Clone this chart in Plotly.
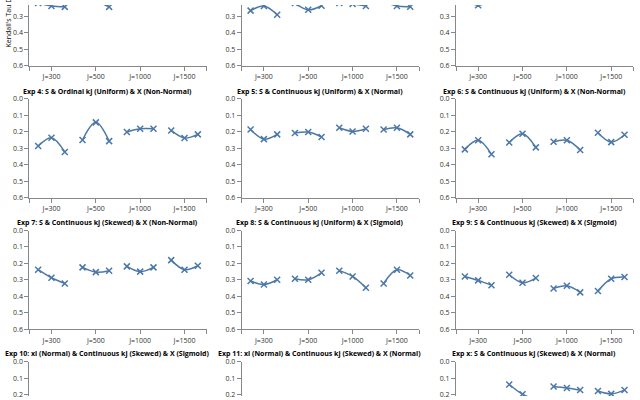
import plotly.graph_objects as go

J_LABELS = ["J=300", "J=500", "J=1000", "J=1500"]
Y_TITLE = "Kendall's Tau Distance"

TITLES = [
    "Exp 1", "Exp 2", "Exp 3",
    "Exp 4: S & Ordinal kj (Uniform) & X (Non-Normal)",
    "Exp 5: S & Continuous kj (Uniform) & X (Normal)",
    "Exp 6: S & Continuous kj (Uniform) & X (Non-Normal)",
    "Exp 7: S & Continuous kj (Skewed) & X (Non-Normal)",
    "Exp 8: S & Continuous kj (Uniform) & X (Sigmoid)",
    "Exp 9: S & Continuous kj (Skewed) & X (Sigmoid)",
    "Exp 10: xi (Normal) & Continuous kj (Skewed) & X (Sigmoid)",
    "Exp 11: xi (Normal) & Continuous kj (Skewed) & X (Normal)",
    "Exp x: S & Continuous kj (Skewed) & X (Normal)",
]

# values per experiment: one list of 3 values per J group
exp1 = [[0.220, 0.238, 0.243], [0.200, 0.210, 0.243], [0.190, 0.200, 0.190], [0.180, 0.190, 0.200]]
exp2 = [[0.266, 0.238, 0.291], [0.220, 0.261, 0.236], [0.220, 0.225, 0.238], [0.210, 0.238, 0.242]]
exp3 = [[0.200, 0.233, 0.200], [0.190, 0.200, 0.210], [0.200, 0.190, 0.200], [0.200, 0.210, 0.190]]
exp4 = [[0.287, 0.236, 0.323], [0.250, 0.143, 0.257], [0.202, 0.182, 0.182], [0.192, 0.238, 0.216]]
exp5 = [[0.186, 0.245, 0.216], [0.208, 0.202, 0.232], [0.176, 0.198, 0.182], [0.186, 0.176, 0.216]]
exp6 = [[0.307, 0.252, 0.337], [0.265, 0.212, 0.295], [0.261, 0.252, 0.311], [0.206, 0.263, 0.218]]
exp7 = [[0.238, 0.287, 0.322], [0.224, 0.253, 0.244], [0.218, 0.250, 0.224], [0.180, 0.238, 0.214]]
exp8 = [[0.307, 0.328, 0.299], [0.293, 0.299, 0.257], [0.244, 0.279, 0.348], [0.322, 0.239, 0.273]]
exp9 = [[0.279, 0.303, 0.333], [0.269, 0.317, 0.289], [0.352, 0.336, 0.376], [0.368, 0.293, 0.283]]
exp10 = [[0.300, 0.320, 0.310], [0.290, 0.300, 0.280], [0.300, 0.310, 0.290], [0.280, 0.300, 0.310]]
exp11 = [[0.280, 0.300, 0.290], [0.270, 0.290, 0.300], [0.290, 0.280, 0.300], [0.300, 0.290, 0.280]]
expx = [[0.260, 0.270, 0.250], [0.138, 0.197, 0.230], [0.150, 0.159, 0.172], [0.178, 0.195, 0.172]]

ALL = [exp1, exp2, exp3, exp4, exp5, exp6, exp7, exp8, exp9, exp10, exp11, expx]

W, H = 640, 400
COLOR = "#4c78a8"
FONT = "Open Sans"
OFFSETS = [-0.3, 0.0, 0.3]

col_px = [(29.3, 206.7), (241.7, 419.1), (456.0, 633.4)]
row_px = [(-39.0, 62.0), (96.0, 197.0), (230.7, 331.7), (365.0, 466.0)]

fig = go.Figure()
annotations = []

for k, data in enumerate(ALL):
    r, c = divmod(k, 3)
    ax = "" if k == 0 else str(k + 1)
    x0, x1 = col_px[c]
    top, bot = row_px[r]
    vis_top = max(top, 0.0)
    vis_bot = min(bot, H)
    dom_y = [1 - vis_bot / H, 1 - vis_top / H]
    # value range visible (reversed axis: 0 at top, 0.6 at bottom)
    v_top = (vis_top - top) / (bot - top) * 0.6
    v_bot = (vis_bot - top) / (bot - top) * 0.6
    for g, vals in enumerate(data):
        fig.add_trace(go.Scatter(
            x=[g + o for o in OFFSETS], y=vals,
            mode="lines+markers",
            line=dict(color=COLOR, width=1.5, shape="spline", smoothing=1.0),
            marker=dict(symbol="x-thin", size=6, line=dict(color=COLOR, width=1.5), color=COLOR),
            xaxis="x" + ax, yaxis="y" + ax, showlegend=False, hoverinfo="skip",
        ))
    show_x = r < 3
    fig.update_layout(**{
        "xaxis" + ax: dict(
            domain=[x0 / W, x1 / W], anchor="y" + ax, range=[-0.5, 3.5],
            tickvals=[0, 1, 2, 3], ticktext=J_LABELS, showgrid=False, zeroline=False,
            showline=show_x, linecolor="#888", linewidth=1,
            ticks="outside" if show_x else "", ticklen=4, tickcolor="#888",
            showticklabels=show_x, tickfont=dict(family=FONT, size=7, color="#333"),
            minor=dict(tickmode="array", tickvals=[-0.5, 3.5], ticks="outside" if show_x else "",
                       ticklen=4, tickcolor="#888", showgrid=False),
        ),
        "yaxis" + ax: dict(
            domain=dom_y, anchor="x" + ax, range=[v_bot, v_top],
            tickvals=[0, 0.1, 0.2, 0.3, 0.4, 0.5, 0.6], tickformat=".1f",
            showgrid=False, zeroline=False, showline=True, linecolor="#888", linewidth=1,
            ticks="outside", ticklen=4, tickcolor="#888",
            tickfont=dict(family=FONT, size=7, color="#333"),
        ),
    })
    if r > 0:
        annotations.append(dict(
            text="<b>" + TITLES[k] + "</b>", xref="paper", yref="paper",
            x=((x0 + x1) / 2 - 10.5) / W, y=1 - (top - 8) / H,
            xanchor="center", yanchor="middle", showarrow=False,
            font=dict(family=FONT, size=7, color="#000"),
        ))

annotations.append(dict(
    text=Y_TITLE, xref="paper", yref="paper",
    x=8 / W, y=1 - 46 / H, xanchor="center", yanchor="bottom", textangle=-90,
    showarrow=False, font=dict(family=FONT, size=7, color="#000"),
))

fig.update_layout(
    width=W, height=H, margin=dict(l=0, r=0, t=0, b=0),
    paper_bgcolor="white", plot_bgcolor="white",
    annotations=annotations, font=dict(family=FONT),
)

fig.write_html("out.html", config={"displayModeBar": False},
               post_script="document.body.style.margin='0px';")
